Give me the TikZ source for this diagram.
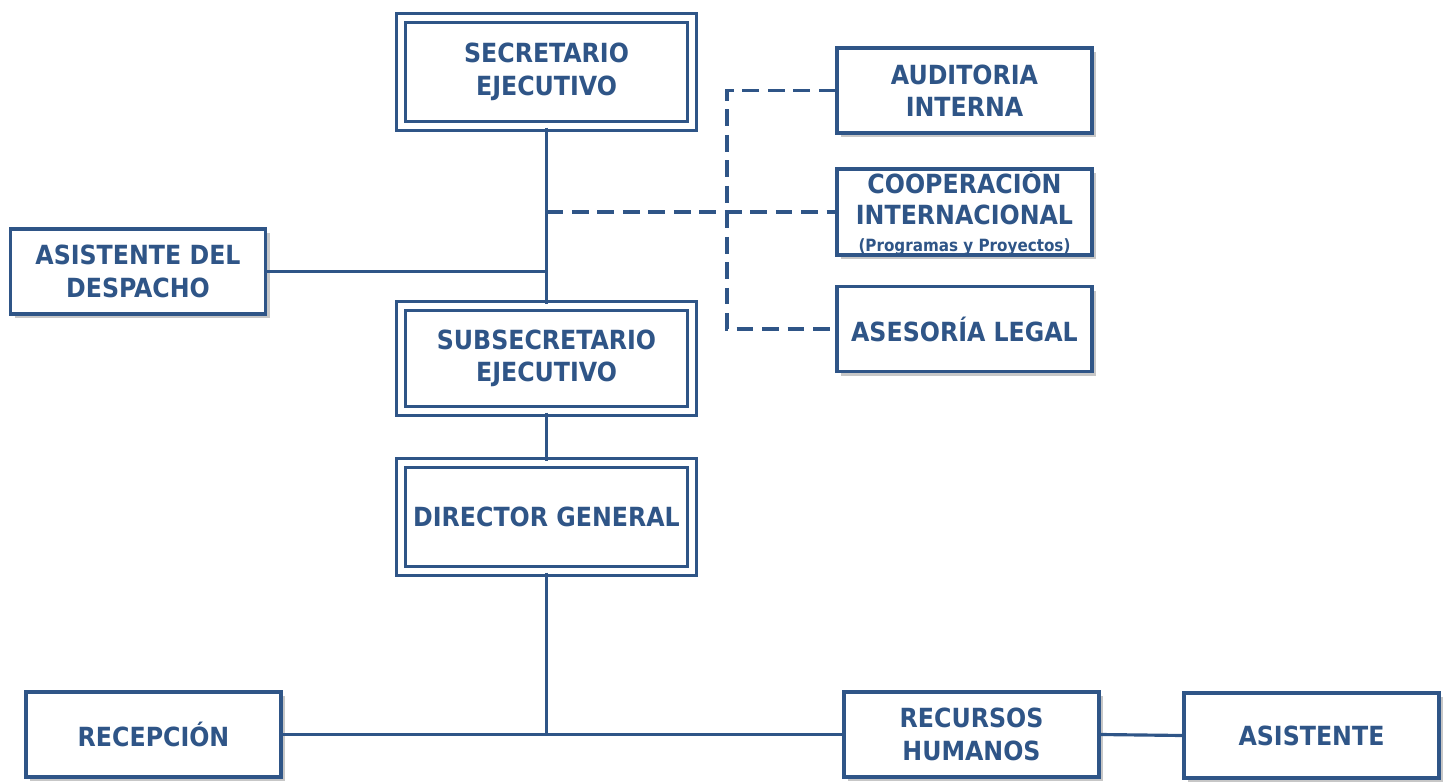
\documentclass[tikz,border=0pt]{standalone}
\usepackage{fontspec}
\setmainfont{DejaVu Sans Condensed}
\usetikzlibrary{shadows}
\definecolor{orgblue}{RGB}{47,85,135}

\begin{document}
\begin{tikzpicture}[x=0.02cm,y=-0.02cm,
  unit/.style={draw=orgblue,line width=1.8pt,fill=white,text=orgblue,
    font=\bfseries\fontsize{15}{18.5}\selectfont,align=center,inner sep=0pt,
    drop shadow={shadow xshift=2.5pt,shadow yshift=-2.5pt,fill=black!22,opacity=1}},
  box/.style={unit,minimum width=5.1cm,minimum height=1.7cm},
  headbox/.style={unit,double=white,double distance=3pt,minimum width=5.82cm},
  link/.style={orgblue,line width=1.8pt},
  dashlink/.style={link,dash pattern=on 9.5pt off 5pt}]
\useasboundingbox (0,0) rectangle (1447,781);

% direccion
\node[headbox,minimum height=2.16cm] (sec) at (546.5,72) {SECRETARIO\\EJECUTIVO};
\node[headbox,minimum height=2.1cm] (sub) at (546.5,358.5) {SUBSECRETARIO\\EJECUTIVO};
\node[headbox,minimum height=2.16cm] (dir) at (546.5,517) {DIRECTOR GENERAL};

% staff
\node[box] (aud) at (964.5,90.5) {AUDITORIA\\INTERNA};
\node[box] (coop) at (964.5,212) {COOPERACIÓN\\[-1pt]INTERNACIONAL\\[-3pt]{\fontsize{9.6}{11}\selectfont (Programas y Proyectos)}};
\node[box] (leg) at (964.5,329) {ASESORÍA LEGAL};
\node[box] (desp) at (138,271.5) {ASISTENTE DEL\\DESPACHO};

% unidades
\node[box] (rec) at (153.5,734.5) {RECEPCIÓN};
\node[box] (rh) at (971.5,734.5) {RECURSOS\\HUMANOS};
\node[box] (asis) at (1311.5,735.5) {ASISTENTE};

\draw[link] (sec.south) -- (sub.north);
\draw[link] (desp.east) -- (desp.east -| sec.south);
\draw[dashlink] (coop.west -| sec.south) -- (coop.west);
\coordinate (dbus) at (727,92);
\draw[dashlink] (aud.west) -- (aud.west -| dbus) -- (leg.west -| dbus) -- (leg.west);
\draw[link] (sub.south) -- (dir.north);
\draw[link] (dir.south) -- (dir.south |- rec.east);
\draw[link] (rec.east) -- (rh.west);
\draw[link] (rh.east) -- (asis.west);
\end{tikzpicture}
\end{document}
